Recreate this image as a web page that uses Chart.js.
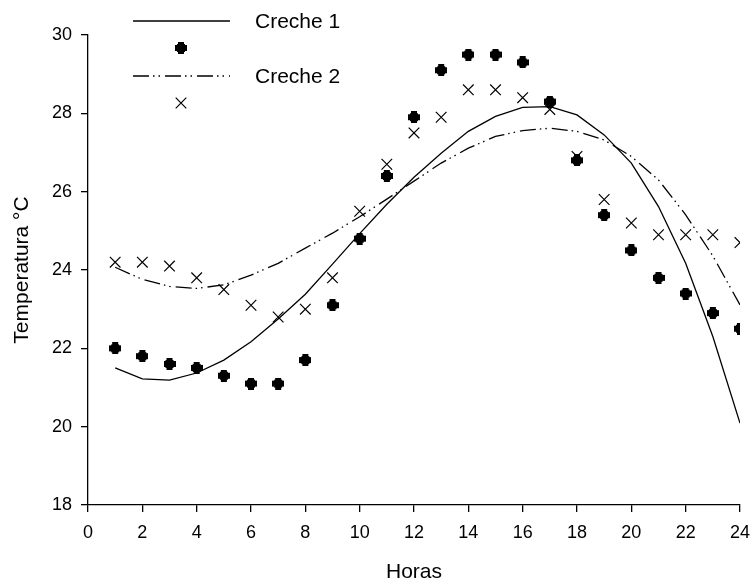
<!DOCTYPE html>
<html>
<head>
<meta charset="utf-8">
<script src="https://cdn.jsdelivr.net/npm/chart.js@4/dist/chart.umd.min.js"></script>
<style>
  html, body { margin: 0; padding: 0; background: #fff; }
  #wrap { width: 752px; height: 583px; position: relative; }
</style>
</head>
<body>
<div id="wrap"><canvas id="chart"></canvas></div>
<script>
  // horas do dia
  const hours = [1, 2, 3, 4, 5, 6, 7, 8, 9, 10, 11, 12, 13, 14, 15, 16, 17, 18, 19, 20, 21, 22, 23, 24];

  // valores observados
  const creche1Obs = [22.0, 21.8, 21.6, 21.5, 21.3, 21.1, 21.1, 21.7, 23.1, 24.8, 26.4, 27.9,
    29.1, 29.5, 29.5, 29.3, 28.3, 26.8, 25.4, 24.5, 23.8, 23.4, 22.9, 22.5];
  const creche2Obs = [24.2, 24.2, 24.1, 23.8, 23.5, 23.1, 22.8, 23.0, 23.8, 25.5, 26.7, 27.5,
    27.9, 28.6, 28.6, 28.4, 28.1, 26.9, 25.8, 25.2, 24.9, 24.9, 24.9, 24.7];

  // curvas ajustadas
  const creche1Fit = [21.5, 21.22, 21.19, 21.37, 21.7, 22.17, 22.75, 23.38, 24.15, 24.93, 25.68, 26.37,
    26.98, 27.54, 27.92, 28.15, 28.17, 27.96, 27.45, 26.73, 25.62, 24.17, 22.3, 20.09];
  const creche2Fit = [24.07, 23.76, 23.58, 23.53, 23.62, 23.87, 24.17, 24.56, 24.94, 25.36, 25.81, 26.27,
    26.73, 27.11, 27.41, 27.56, 27.62, 27.54, 27.32, 26.9, 26.3, 25.41, 24.36, 23.11];

  const seriesNames = ["Creche 1", "Creche 2"];

  const FONT = "'Liberation Sans', Arial, sans-serif";
  const DASH2 = [16, 4, 1.5, 4, 1.5, 5];

  // marcador "+" cheio
  function plusMarker() {
    const c = document.createElement("canvas");
    c.width = 12;
    c.height = 12;
    const g = c.getContext("2d");
    g.fillStyle = "#000";
    g.fillRect(3, 0, 6, 12);
    g.fillRect(0, 3, 12, 6);
    g.fillRect(2, 2, 8, 8);
    return c;
  }
  const plus = plusMarker();

  const pts = (ys) => hours.map((h, i) => ({ x: h, y: ys[i] }));

  // legenda desenhada à mão
  const customLegend = {
    id: "customLegend",
    afterDraw(chart) {
      const ctx = chart.ctx;
      ctx.save();
      ctx.strokeStyle = "#000";
      ctx.lineWidth = 1.3;

      ctx.beginPath();
      ctx.moveTo(133, 21);
      ctx.lineTo(230, 21);
      ctx.stroke();
      ctx.drawImage(plus, 181 - 6, 48 - 6);

      ctx.setLineDash(DASH2);
      ctx.beginPath();
      ctx.moveTo(133, 76);
      ctx.lineTo(230, 76);
      ctx.stroke();
      ctx.setLineDash([]);

      ctx.lineWidth = 1.2;
      const r = 5.3;
      ctx.beginPath();
      ctx.moveTo(181 - r, 103 - r);
      ctx.lineTo(181 + r, 103 + r);
      ctx.moveTo(181 + r, 103 - r);
      ctx.lineTo(181 - r, 103 + r);
      ctx.stroke();

      ctx.fillStyle = "#000";
      ctx.font = "21px " + FONT;
      ctx.textBaseline = "middle";
      ctx.textAlign = "left";
      ctx.fillText(seriesNames[0], 255, 22);
      ctx.fillText(seriesNames[1], 255, 77);
      ctx.restore();
    },
  };

  new Chart(document.getElementById("chart"), {
    type: "scatter",
    data: {
      datasets: [
        {
          label: seriesNames[0] + " ajuste",
          type: "line",
          data: pts(creche1Fit),
          borderColor: "#000",
          borderWidth: 1.3,
          pointRadius: 0,
          tension: 0,
          fill: false,
        },
        {
          label: seriesNames[1] + " ajuste",
          type: "line",
          data: pts(creche2Fit),
          borderColor: "#000",
          borderWidth: 1.3,
          borderDash: DASH2,
          pointRadius: 0,
          tension: 0,
          fill: false,
        },
        {
          label: seriesNames[0],
          data: pts(creche1Obs),
          pointStyle: plus,
          pointRadius: 6,
          showLine: false,
        },
        {
          label: seriesNames[1],
          data: pts(creche2Obs),
          pointStyle: "crossRot",
          pointRadius: 7.5,
          borderColor: "#000",
          borderWidth: 1.2,
          showLine: false,
        },
      ],
    },
    options: {
      responsive: true,
      maintainAspectRatio: false,
      animation: false,
      layout: { padding: { top: 35, right: 12, bottom: 0, left: 0 } },
      plugins: {
        legend: { display: false },
        tooltip: { enabled: false },
      },
      scales: {
        x: {
          type: "linear",
          min: 0,
          max: 24,
          afterFit: (s) => { s.height = 78; s.paddingLeft = 0; s.paddingRight = 0; },
          border: { color: "#000", width: 1.3 },
          grid: { drawOnChartArea: false, drawTicks: true, tickLength: 7, color: "#000", lineWidth: 1.3 },
          ticks: { stepSize: 2, color: "#000", padding: 10, maxRotation: 0, font: { family: FONT, size: 18 } },
          title: {
            display: true,
            text: "Horas",
            color: "#000",
            padding: 0,
            font: { family: FONT, size: 21, lineHeight: 1 },
          },
        },
        y: {
          min: 18,
          max: 30,
          afterFit: (s) => { s.width = 88; s.paddingTop = 0; s.paddingBottom = 0; },
          border: { color: "#000", width: 1.3 },
          grid: { drawOnChartArea: false, drawTicks: true, tickLength: 7, color: "#000", lineWidth: 1.3 },
          ticks: { stepSize: 2, color: "#000", padding: 9, font: { family: FONT, size: 18 } },
          title: {
            display: true,
            text: "Temperatura °C",
            color: "#000",
            padding: { top: 10 },
            font: { family: FONT, size: 21, lineHeight: 1.2 },
          },
        },
      },
    },
    plugins: [customLegend],
  });
</script>
</body>
</html>
